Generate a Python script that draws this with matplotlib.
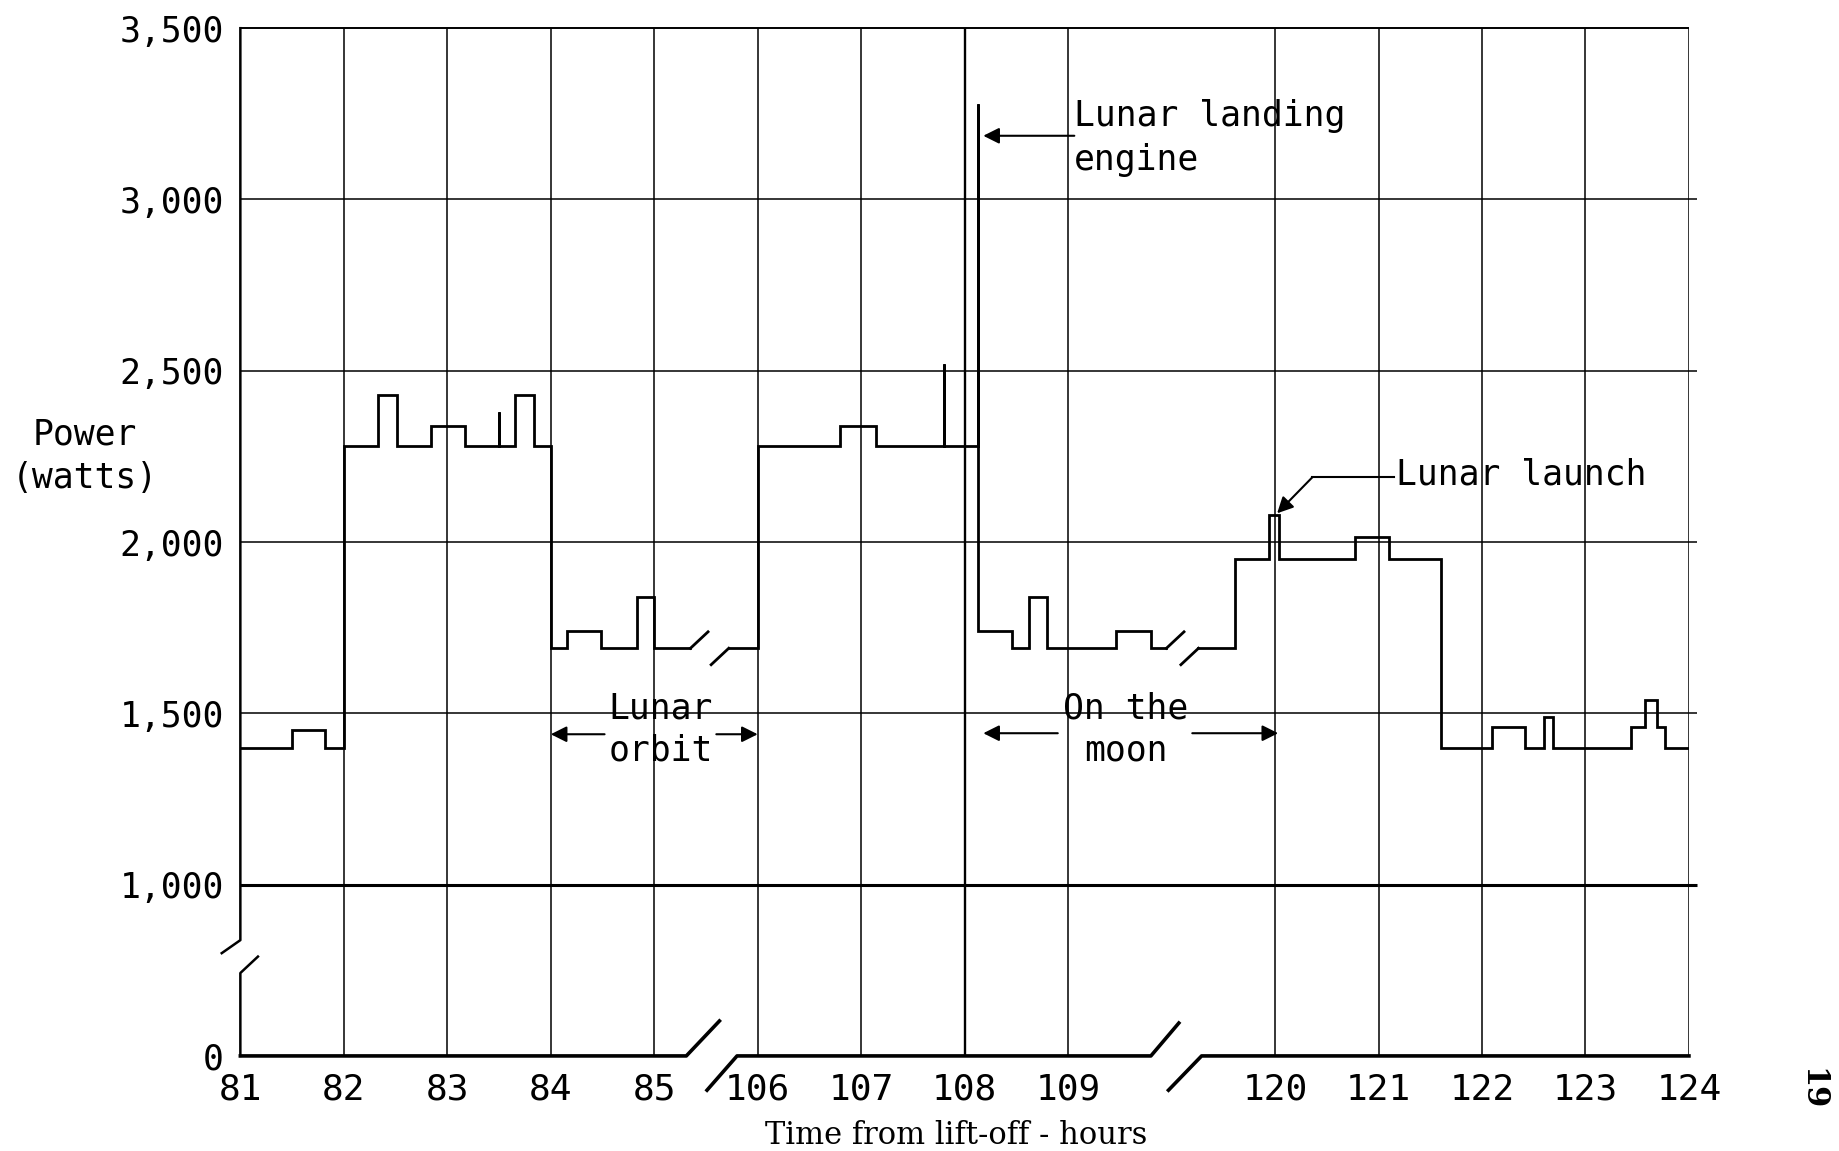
import numpy as np
import matplotlib.pyplot as plt

# step data: hour where each level starts (steps-post), last value repeated at the end
t_a = [81.0, 81.5, 81.82, 82.0, 82.33, 82.51, 82.84, 83.17, 83.5, 83.5, 83.65, 83.84,
       84.0, 84.16, 84.49, 84.83, 85.0, 85.35]
p_a = [1400, 1450, 1400, 2280, 2430, 2280, 2340, 2280, 2380, 2280, 2430, 2280,
       1690, 1740, 1690, 1840, 1690, 1690]

t_b = [105.72, 106.0, 106.8, 107.14, 107.8, 107.8, 108.13, 108.13, 108.46, 108.62,
       108.8, 109.46, 109.8, 109.95]
p_b = [1690, 2280, 2340, 2280, 2520, 2280, 3280, 1740, 1690, 1840,
       1690, 1740, 1690, 1690]

t_c = [119.26, 119.61, 119.94, 120.04, 120.77, 121.1, 121.6, 122.1, 122.42, 122.6,
       122.69, 123.44, 123.58, 123.69, 123.77, 124.0]
p_c = [1690, 1950, 2080, 1950, 2015, 1950, 1400, 1460, 1400, 1490,
       1400, 1460, 1540, 1460, 1400, 1400]

tick_hours = [81, 82, 83, 84, 85, 106, 107, 108, 109, 120, 121, 122, 123, 124]
y_ticks_w = [0, 1000, 1500, 2000, 2500, 3000, 3500]
y_labels = ['0', '1,000', '1,500', '2,000', '2,500', '3,000', '3,500']


def hpos(h):
    # broken time axis: 81-85 | 106-109 | 120-124
    h = np.asarray(h, float)
    return np.where(h < 95, h - 81, np.where(h < 115, h - 101, h - 110))


def ypos(w):
    # broken power axis: 0-1000 squeezed into one half-step
    w = np.asarray(w, float)
    return np.where(w >= 1000, w, 500 + w / 2)


MONO = 'DejaVu Sans Mono'
K = 'black'
FS = 25
fig = plt.figure(figsize=(18.39, 11.51), dpi=100)
ax = fig.add_axes([0.1307, 0.0826, 0.7877, 0.8929])
ax.set_xlim(0, 14)
ax.set_ylim(500, 3500)
for s in ax.spines.values():
    s.set_visible(False)

# grid
xt = hpos(tick_hours)
for x, h in zip(xt[1:], tick_hours[1:]):
    ax.vlines(x, 500, 3500, color=K, lw=1.7 if h == 108 else 1.1)
ax.hlines(ypos([1500, 2000, 2500, 3000]), 0, 14.08, color=K, lw=1.1, clip_on=False)
ax.hlines(1000, 0, 14.08, color=K, lw=2.2, clip_on=False)
ax.hlines(3500, 0, 14, color=K, lw=1.4, clip_on=False)

# left axis with break
ax.plot([0, 0, -0.18], [3500, 838, 800], color=K, lw=1.8, clip_on=False)
ax.plot([0.17, 0, 0], [790, 742, 500], color=K, lw=1.8, clip_on=False)

# bottom axis with breaks
ax.plot([0, 4.31, 4.63], [500, 500, 602], color=K, lw=2.6, clip_on=False)
ax.plot([4.51, 4.8, 8.8, 9.07], [400, 500, 500, 596], color=K, lw=2.6, clip_on=False)
ax.plot([8.97, 9.29, 14.0], [400, 500, 500], color=K, lw=2.6, clip_on=False)

# power curve
sdx, sdy = 0.17, 48
for i, (t, p) in enumerate([(t_a, p_a), (t_b, p_b), (t_c, p_c)]):
    x = hpos(t)
    y = ypos(p)
    ax.plot(x, y, drawstyle='steps-post', color=K, lw=2.0, solid_joinstyle='miter')
    if i > 0:
        ax.plot([x[0] - sdx, x[0]], [y[0] - sdy, y[0]], color=K, lw=2.0)
    if i < 2:
        ax.plot([x[-1], x[-1] + sdx], [y[-1], y[-1] + sdy], color=K, lw=2.0)

# ticks
ax.set_xticks(xt)
ax.set_xticklabels([str(h) for h in tick_hours], fontsize=26, family=MONO)
ax.set_yticks(ypos(y_ticks_w))
ax.set_yticklabels(y_labels, fontsize=FS, family=MONO)
ax.tick_params(axis='x', length=0, pad=12)
ax.tick_params(axis='y', length=0, pad=12)

arrow = dict(arrowstyle='-|>', color=K, lw=1.5, mutation_scale=24, shrinkA=0, shrinkB=0)

# annotations
ax.text(8.06, 3180, 'Lunar landing\nengine', ha='left', va='center', fontsize=FS,
        family=MONO, linespacing=1.35)
ax.annotate('', xy=(7.18, 3186), xytext=(8.06, 3186), arrowprops=arrow)

ax.text(11.17, 2198, 'Lunar launch', ha='left', va='center', fontsize=FS, family=MONO)
ax.plot([10.36, 11.15], [2189, 2189], color=K, lw=1.5)
ax.annotate('', xy=(10.02, 2084), xytext=(10.36, 2189), arrowprops=arrow)

ax.text(4.06, 1452, 'Lunar\norbit', ha='center', va='center', fontsize=FS,
        family=MONO, linespacing=1.3)
ax.annotate('', xy=(3.0, 1439), xytext=(3.52, 1439), arrowprops=arrow)
ax.annotate('', xy=(5.0, 1439), xytext=(4.6, 1439), arrowprops=arrow)

ax.text(8.56, 1452, 'On the\nmoon', ha='center', va='center', fontsize=FS,
        family=MONO, linespacing=1.3)
ax.annotate('', xy=(7.18, 1442), xytext=(7.9, 1442), arrowprops=arrow)
ax.annotate('', xy=(10.03, 1442), xytext=(9.2, 1442), arrowprops=arrow)

fig.text(0.046, 0.6035, 'Power\n(watts)', ha='center', va='center', fontsize=FS,
         family=MONO, linespacing=1.35)
fig.text(0.52, 0.0133, 'Time from lift-off - hours', ha='center', va='center',
         fontsize=22, family='DejaVu Serif')
fig.text(0.985, 0.054, '19', ha='center', va='center', rotation=-90,
         fontsize=22, family='DejaVu Serif', weight='bold')

fig.savefig('out.png', dpi=100)
